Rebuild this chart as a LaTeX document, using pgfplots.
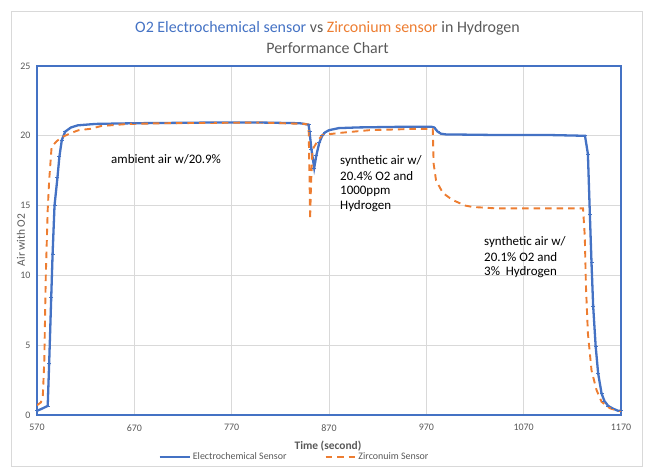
\documentclass[border=0pt]{standalone}
\usepackage{fontspec}
\setmainfont{Carlito}
\usepackage{pgfplots}
\pgfplotsset{compat=1.18}
\definecolor{eblue}{HTML}{4472C4}
\definecolor{zorange}{HTML}{ED7D31}
\definecolor{tgray}{HTML}{595959}
\definecolor{ggray}{HTML}{D9D9D9}
\begin{document}
\begin{tikzpicture}
\path[use as bounding box] (0bp,0bp) rectangle (653bp,476bp);
\draw[ggray, line width=0.75bp] (11.5bp,10bp) rectangle (642.5bp,464.5bp);
\begin{axis}[
  at={(37bp,61bp)}, anchor=south west,
  scale only axis, width=584bp, height=349bp,
  xmin=570, xmax=1170, ymin=0, ymax=25,
  xtick={570,670,770,870,970,1070,1170},
  ytick={0,5,10,15,20,25},
  grid=major,
  major grid style={ggray, line width=0.6bp},
  axis line style={eblue, line width=1.8bp},
  major tick length=0pt,
  /pgf/number format/assume math mode=true,
  /pgf/number format/.cd, set thousands separator={}, /pgfplots/.cd,
  ticklabel style={font=\fontsize{10}{12}\selectfont, text=tgray},
  xticklabel style={yshift=-6bp},
  yticklabel style={xshift=-3bp},
  legend columns=2,
  legend style={at={(0.441,-0.1203)}, anchor=center, draw=none, fill=none,
    font=\fontsize{10}{12}\selectfont, text=tgray,
    /tikz/every even column/.append style={column sep=36bp},
    inner sep=0pt},
  legend image code/.code={\draw[#1] plot coordinates {(0bp,0bp) (15bp,0bp) (30bp,0bp)};},
  legend image post style={mark repeat=2, mark phase=2},
]
\addplot[eblue, line width=2.3bp, mark=-, mark size=2bp, mark options={line width=0.8bp, solid}] coordinates {
(570,0.3) (575,0.45) (581,0.65) (582.5,3.7) (584.6,8.4) (586,11.5) (588,15.0) (591,17.0)
(593,18.5) (595.5,19.7) (599,20.3) (605,20.6) (612,20.75) (630,20.85) (670,20.9)
(750,20.95) (800,20.95) (840,20.9) (849,20.8) (850,20.3) (852,19.0) (854.8,17.7)
(857,18.6) (860,19.5) (863,20.0) (866,20.25) (870,20.4) (880,20.55) (900,20.6)
(950,20.65) (975,20.65) (978,20.6) (981.6,20.3) (985,20.15) (990,20.1) (1050,20.05)
(1100,20.05) (1133,20.0) (1136,18.7) (1138,14.4) (1139.7,10.9) (1141.4,7.8) (1144,4.9)
(1146.5,3.0) (1150,1.55) (1153,1.0) (1156.8,0.65) (1162,0.45) (1167,0.3) (1170,0.3)
};
\addlegendentry{Electrochemical Sensor}
\addplot[zorange, line width=1.9bp, dash pattern=on 6.5bp off 5bp] coordinates {
(570,0.7) (574,0.9) (576,1.4) (577.5,3.9) (579,9.9) (581,14.7) (582.5,16.8) (585,19.2)
(590,19.6) (595.5,19.9) (605,20.2) (612.7,20.4) (625,20.5) (636,20.7) (664,20.85)
(700,20.9) (800,20.95) (845,20.85) (849,20.8) (850,17.0) (850.6,14.0) (851.5,16.5)
(853,19.0) (858,19.6) (863,20.05) (880,20.2) (911,20.4) (960,20.5) (976.6,20.5)
(977.5,18.0) (980,16.8) (987,15.9) (997,15.4) (1010,15.0) (1017.8,14.9) (1042,14.8)
(1100,14.8) (1131,14.8) (1132.8,12.8) (1134,9.2) (1136,5.85) (1139.7,3.2) (1144.8,1.8)
(1150,0.95) (1158.6,0.48) (1167,0.3) (1170,0.3)
};
\addlegendentry{Zirconuim Sensor}
\end{axis}
\node[font=\fontsize{16}{19}\selectfont, text=tgray] at (327.5bp,447.7bp)
  {\textcolor{eblue}{O2 Electrochemical sensor} vs \textcolor{zorange}{Zirconium sensor} in Hydrogen};
\node[font=\fontsize{16}{19}\selectfont, text=tgray] at (327.5bp,427.7bp) {Performance Chart};
\node[rotate=90, font=\fontsize{11.5}{14}\selectfont, text=tgray] at (21bp,236bp) {Air with O2};
\node[font=\bfseries\fontsize{11.5}{14}\selectfont, text=tgray] at (328bp,30bp) {Time (second)};
\begin{scope}[every node/.style={anchor=west, inner sep=0pt, font=\fontsize{13}{15}\selectfont, text=black}]
\node at (111bp,317bp) {ambient air w/20.9\%};
\node at (340bp,315bp) {synthetic air w/};
\node at (340bp,300bp) {20.4\% O2 and};
\node at (340bp,285bp) {1000ppm};
\node at (340bp,270bp) {Hydrogen};
\node at (484bp,234.3bp) {synthetic air w/};
\node at (484bp,219.3bp) {20.1\% O2 and};
\node at (484bp,203.7bp) {3\%~ Hydrogen};
\end{scope}
\end{tikzpicture}
\end{document}
